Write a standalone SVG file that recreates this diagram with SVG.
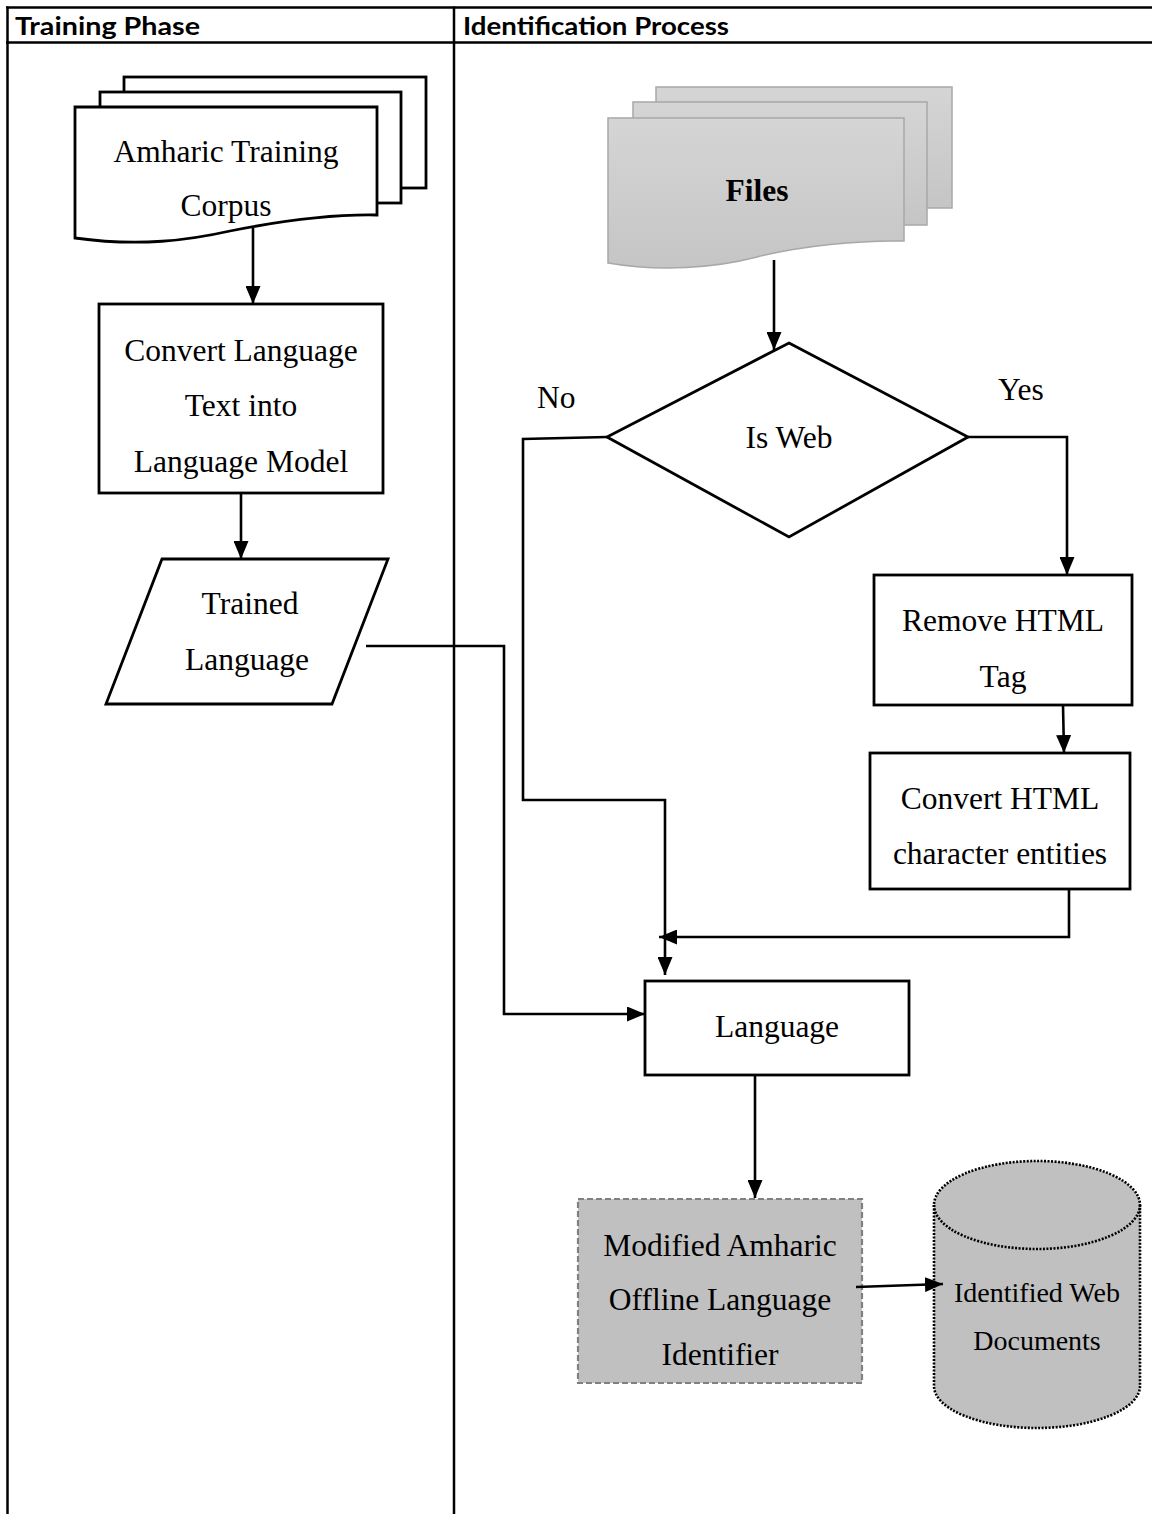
<svg xmlns="http://www.w3.org/2000/svg" width="1152" height="1514" viewBox="0 0 1152 1514">
  <style>
    .grid { stroke: #000; stroke-width: 2.5; fill: none; }
    .hdr { font-family: Lato, "Open Sans", "Liberation Sans", sans-serif; font-weight: bold; font-size: 24px; fill: #000; }
    .lbl { font-family: "Liberation Serif", "Times New Roman", serif; font-size: 31.5px; fill: #000; text-anchor: middle; }
    .small { font-size: 28px; }
    .bold { font-weight: bold; }
    .plain { font-family: "Liberation Serif", "Times New Roman", serif; font-size: 31.5px; fill: #000; }
    .box { fill: #fff; stroke: #000; stroke-width: 2.8; }
    .page { fill: #fff; stroke: #000; stroke-width: 2.8; }
    .gpage { fill: url(#grayFill); stroke: #a8a8a8; stroke-width: 1.5; }
    .link { fill: none; stroke: #000; stroke-width: 2.6; }
  </style>
  <defs>
    <linearGradient id="grayFill" x1="0" y1="0" x2="0" y2="1">
      <stop offset="0" stop-color="#d5d5d5"/>
      <stop offset="1" stop-color="#c5c5c5"/>
    </linearGradient>
    <marker id="arrow" viewBox="0 0 18 15" refX="18" refY="7.5" markerWidth="18" markerHeight="15" markerUnits="userSpaceOnUse" orient="auto">
      <path d="M0,0 L18,7.5 L0,15 z" fill="#000"/>
    </marker>
  </defs>

  <rect width="1152" height="1514" fill="#fff"/>

  <!-- table frame -->
  <g id="table">
    <line class="grid" x1="6" y1="7.5" x2="1152" y2="7.5"/>
    <line class="grid" x1="6" y1="42.5" x2="1152" y2="42.5"/>
    <line class="grid" x1="7.5" y1="6.5" x2="7.5" y2="1514"/>
    <line class="grid" x1="454" y1="6.5" x2="454" y2="1514"/>
    <text class="hdr" x="15" y="35" textLength="185" lengthAdjust="spacingAndGlyphs">Training Phase</text>
    <text class="hdr" x="463" y="35" textLength="266" lengthAdjust="spacingAndGlyphs">Identification Process</text>
  </g>

  <!-- training corpus (multi-document) -->
  <g id="corpus">
    <rect class="page" x="124" y="77" width="302" height="111"/>
    <rect class="page" x="100" y="92" width="301" height="111"/>
    <path class="page" d="M75,107 H377 V215 C330,214 280,221 230,231 C190,240 140,247 75,238 Z"/>
    <text class="lbl" x="226" y="162">Amharic Training</text>
    <text class="lbl" x="226" y="216">Corpus</text>
  </g>

  <g id="convert-model">
    <rect class="box" x="99" y="304" width="284" height="189"/>
    <text class="lbl" x="241" y="361">Convert Language</text>
    <text class="lbl" x="241" y="416">Text into</text>
    <text class="lbl" x="241" y="472">Language Model</text>
  </g>

  <g id="trained">
    <path class="box" d="M162,559 H388 L332,704 H106 Z"/>
    <text class="lbl" x="250" y="614">Trained</text>
    <text class="lbl" x="247" y="670">Language</text>
  </g>

  <!-- input files (multi-document, grey) -->
  <g id="files">
    <rect class="gpage" x="656" y="87" width="296" height="121"/>
    <rect class="gpage" x="633" y="102" width="294" height="123"/>
    <path class="gpage" d="M608,118 H904 V241 C860,240 800,246 757,257 C715,268 660,272 608,263 Z"/>
    <text class="lbl bold" x="757" y="201">Files</text>
  </g>

  <g id="is-web">
    <path class="box" d="M789,343 L968,437 L789,537 L607,437 Z"/>
    <text class="lbl" x="789" y="448">Is Web</text>
  </g>

  <g id="remove-tag">
    <rect class="box" x="874" y="575" width="258" height="130"/>
    <text class="lbl" x="1003" y="631">Remove HTML</text>
    <text class="lbl" x="1003" y="687">Tag</text>
  </g>

  <g id="convert-entities">
    <rect class="box" x="870" y="753" width="260" height="136"/>
    <text class="lbl" x="1000" y="809">Convert HTML</text>
    <text class="lbl" x="1000" y="864">character entities</text>
  </g>

  <g id="language">
    <rect class="box" x="645" y="981" width="264" height="94"/>
    <text class="lbl" x="777" y="1037">Language</text>
  </g>

  <g id="identifier">
    <rect x="578" y="1199" width="284" height="184" fill="#c0c0c0" stroke="#808080" stroke-width="2.2" stroke-dasharray="6 3"/>
    <text class="lbl" x="720" y="1256">Modified Amharic</text>
    <text class="lbl" x="720" y="1310">Offline Language</text>
    <text class="lbl" x="720" y="1365">Identifier</text>
  </g>

  <g id="web-documents">
    <path d="M934,1205 V1386 A103,42 0 0 0 1140,1386 V1205 A103,44 0 0 0 934,1205 Z" fill="#c0c0c0" stroke="#000" stroke-width="2.6" stroke-dasharray="2 1.5"/>
    <path d="M934,1205 A103,44 0 0 0 1140,1205" fill="none" stroke="#000" stroke-width="2.6" stroke-dasharray="2 1.5"/>
    <text class="lbl small" x="1037" y="1302">Identified Web</text>
    <text class="lbl small" x="1037" y="1350">Documents</text>
  </g>

  <!-- branch labels -->
  <g id="branch-labels">
    <text class="plain" x="537" y="408">No</text>
    <text class="plain" x="998" y="400">Yes</text>
  </g>

  <!-- connectors -->
  <g id="connectors">
    <path class="link" d="M253,226 V304" marker-end="url(#arrow)"/>
    <path class="link" d="M241,493 V559" marker-end="url(#arrow)"/>
    <path class="link" d="M366,646 H504 V1014 H645" marker-end="url(#arrow)"/>
    <path class="link" d="M774,260 V350" marker-end="url(#arrow)"/>
    <path class="link" d="M607,437 L523,439 V800 H665 V975" marker-end="url(#arrow)"/>
    <path class="link" d="M968,437 H1067 V575" marker-end="url(#arrow)"/>
    <path class="link" d="M1063,705 L1064,753" marker-end="url(#arrow)"/>
    <path class="link" d="M1069,889 V937 H659" marker-end="url(#arrow)"/>
    <path class="link" d="M755,1075 V1198" marker-end="url(#arrow)"/>
    <path class="link" d="M856,1287 L943,1284" marker-end="url(#arrow)"/>
  </g>
</svg>
